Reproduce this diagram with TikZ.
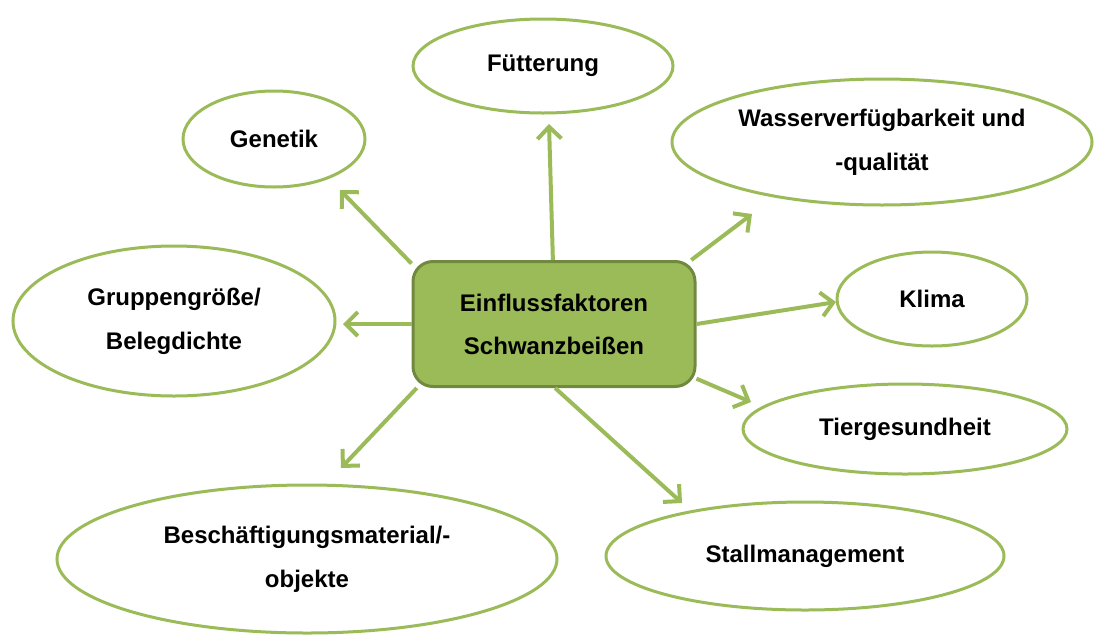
\documentclass[tikz,border=0pt]{standalone}
\usepackage{fontspec}
\setmainfont{Liberation Sans}
\usetikzlibrary{shapes.geometric,arrows.meta}
\definecolor{ellc}{HTML}{9BBB59}
\definecolor{boxfill}{HTML}{9BBB59}
\definecolor{boxline}{HTML}{71893F}
\begin{document}
\begin{tikzpicture}[x=1pt,y=-1pt,
  ell/.style={ellipse, draw=ellc, line width=3pt, fill=white, inner sep=0pt,
    font=\fontsize{24}{44}\selectfont\bfseries, align=center},
  centerbox/.style={rectangle, rounded corners=20pt, draw=boxline, fill=boxfill,
    line width=3pt, minimum width=282pt, minimum height=125pt, inner sep=0pt,
    font=\fontsize{24}{43}\selectfont\bfseries, align=center},
  arr/.style={draw=ellc, line width=4pt,
    -{Straight Barb[length=12pt,width=24pt]}}
]
\useasboundingbox (0,0) rectangle (1099,635);

\node[centerbox] (c) at (554,324) {Einflussfaktoren\\Schwanzbeißen};

\node[ell, minimum width=260pt, minimum height=94pt] (fu) at (543,66) {Fütterung};
\node[ell, minimum width=182pt, minimum height=96pt] (ge) at (274,139) {Genetik};
\node[ell, minimum width=420pt, minimum height=126pt] (wa) at (882,142) {Wasserverfügbarkeit und\\-qualität};
\node[ell, minimum width=322pt, minimum height=150pt] (gr) at (174,321) {Gruppengröße/\\Belegdichte};
\node[ell, minimum width=190pt, minimum height=94pt] (kl) at (932,299) {Klima};
\node[ell, minimum width=324pt, minimum height=90pt] (ti) at (905,429) {Tiergesundheit};
\node[ell, minimum width=500pt, minimum height=148pt] (be) at (307,559) {Beschäftigungsmaterial/-\\objekte};
\node[ell, minimum width=398pt, minimum height=108pt] (st) at (805,556) {Stallmanagement};

\coordinate (tF) at (549,124);
\coordinate (tG) at (340,190);
\coordinate (tW) at (752,214);
\coordinate (tK) at (836,302);
\coordinate (tT) at (751,402);
\coordinate (tS) at (682,503);
\coordinate (tB) at (341,468);
\coordinate (tGr) at (343,324);

\draw[arr] (c.91) -- (tF);
\draw[arr] (c.157) -- (tG);
\draw[arr] (c.25) -- (tW);
\draw[arr] (c.east) -- (tK);
\draw[arr] (c.-21) -- (tT);
\draw[arr] (c.-89) -- (tS);
\draw[arr] (c.205) -- (tB);
\draw[arr] (c.west) -- (tGr);
\end{tikzpicture}
\end{document}
